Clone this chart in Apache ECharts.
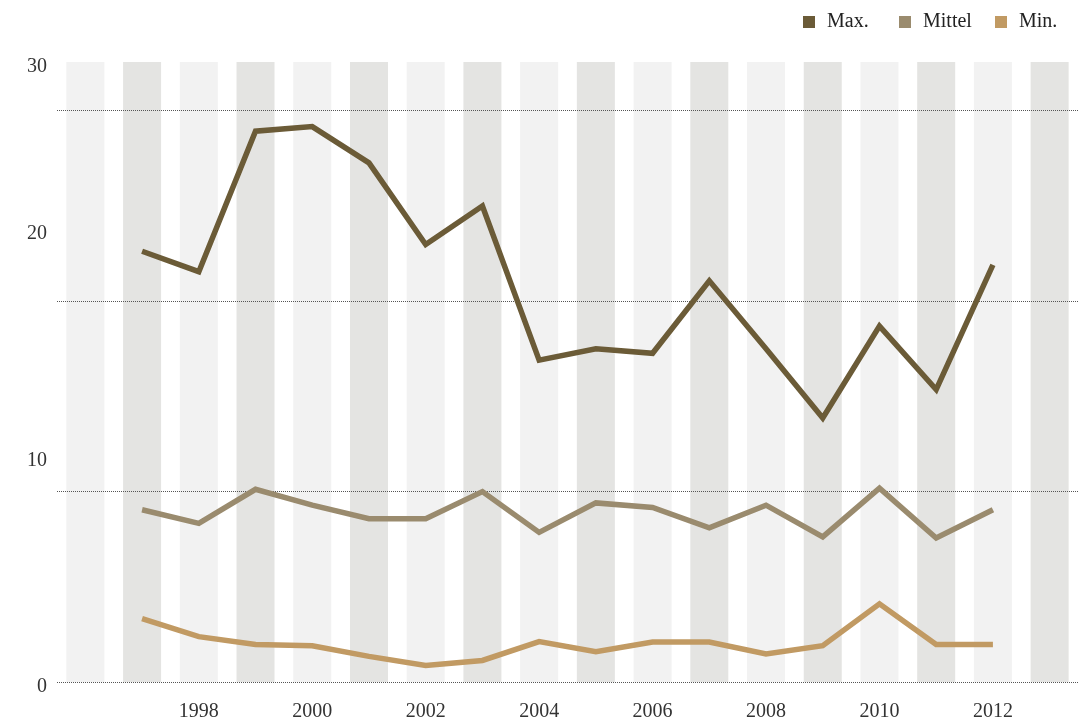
<!DOCTYPE html>
<html>
<head>
<meta charset="utf-8">
<script src="https://cdn.jsdelivr.net/npm/echarts@6/dist/echarts.min.js"></script>
<style>
  html, body { margin: 0; padding: 0; background: #fff; }
  #chart { width: 1078px; height: 722px; }
</style>
</head>
<body>
<div id="chart"></div>
<script>
const years = ['1996', '1997', '1998', '1999', '2000', '2001', '2002', '2003', '2004',
  '2005', '2006', '2007', '2008', '2009', '2010', '2011', '2012', '2013']
const maxValues = [null, 19.0, 18.1, 24.3, 24.5, 22.9, 19.3, 21.0, 14.2,
  14.7, 14.5, 17.7, 14.7, 11.65, 15.7, 12.9, 18.4, null]
const meanValues = [null, 7.6, 7.0, 8.5, 7.8, 7.2, 7.2, 8.4, 6.6,
  7.9, 7.7, 6.8, 7.8, 6.4, 8.55, 6.35, 7.6, null]
const minValues = [null, 2.8, 2.0, 1.65, 1.6, 1.13, 0.73, 0.95, 1.78,
  1.34, 1.76, 1.76, 1.24, 1.6, 3.45, 1.65, 1.65, null]
const seriesNames = ['Max.', 'Mittel', 'Min.']
const yTickLabels = ['0', '10', '20', '30']

const Y_MAX = 27.35      // top of the plot on the value scale
const GRID_MAX = 32.55   // separate scale the dotted rules follow
const FONT = '"Liberation Serif", "DejaVu Serif", serif'

const chart = echarts.init(document.getElementById('chart'))

// one legend per entry so the entries sit on a fixed pitch
const legends = seriesNames.map((name, i) => ({
  left: 798 + i * 96,
  top: 7,
  itemWidth: 12,
  itemHeight: 12,
  icon: 'rect',
  data: [name],
  textStyle: { fontFamily: FONT, fontSize: 20, color: '#222', padding: [0, 0, 0, 7] },
}))

chart.setOption({
  animation: false,
  textStyle: { fontFamily: FONT },
  grid: { left: 57, right: 0, top: 62, bottom: 40 },
  legend: legends,
  xAxis: {
    type: 'category',
    data: years,
    axisLine: { show: false },
    axisTick: { show: false },
    axisLabel: {
      fontFamily: FONT,
      fontSize: 20,
      color: '#333',
      margin: 20,
      interval: (i, v) => +v % 2 === 0 && +v >= 1998 && +v <= 2012,
    },
  },
  yAxis: [{
    type: 'value',
    min: 0,
    max: Y_MAX,
    interval: 10,
    z: 4,
    axisLine: { show: false },
    axisTick: { show: false },
    splitLine: { show: false },
    axisLabel: {
      show: true,
      fontFamily: FONT,
      fontSize: 20,
      color: '#333',
      margin: 10,
      verticalAlign: 'top',
      lineHeight: 10,
      showMaxLabel: true,
      customValues: [0, 10, 20, Y_MAX],
      formatter: v => yTickLabels[Math.round(v / 10)],
    },
  }, {
    type: 'value',
    min: 0,
    max: GRID_MAX,
    interval: 10,
    position: 'left',
    z: 3,
    axisLine: { show: false },
    axisTick: { show: false },
    axisLabel: { show: false },
    splitLine: {
      show: true,
      showMaxLine: false,
      lineStyle: { type: 'dotted', color: '#555', width: 1 },
    },
  }],
  series: [{
    type: 'bar',
    silent: true,
    z: 1,
    barWidth: '67%',
    data: years.map(() => Y_MAX),
    itemStyle: { color: p => (p.dataIndex % 2 ? '#e4e4e2' : '#f2f2f2') },
  }, {
    name: 'Max.',
    type: 'line',
    z: 5,
    data: maxValues,
    showSymbol: false,
    color: '#6b5b37',
    lineStyle: { width: 5.5, color: '#6b5b37', join: 'miter' },
  }, {
    name: 'Mittel',
    type: 'line',
    z: 5,
    data: meanValues,
    showSymbol: false,
    color: '#9a8b6e',
    lineStyle: { width: 5.5, color: '#9a8b6e', join: 'miter' },
  }, {
    name: 'Min.',
    type: 'line',
    z: 5,
    data: minValues,
    showSymbol: false,
    color: '#c19a63',
    lineStyle: { width: 5.5, color: '#c19a63', join: 'miter' },
  }],
})
</script>
</body>
</html>
